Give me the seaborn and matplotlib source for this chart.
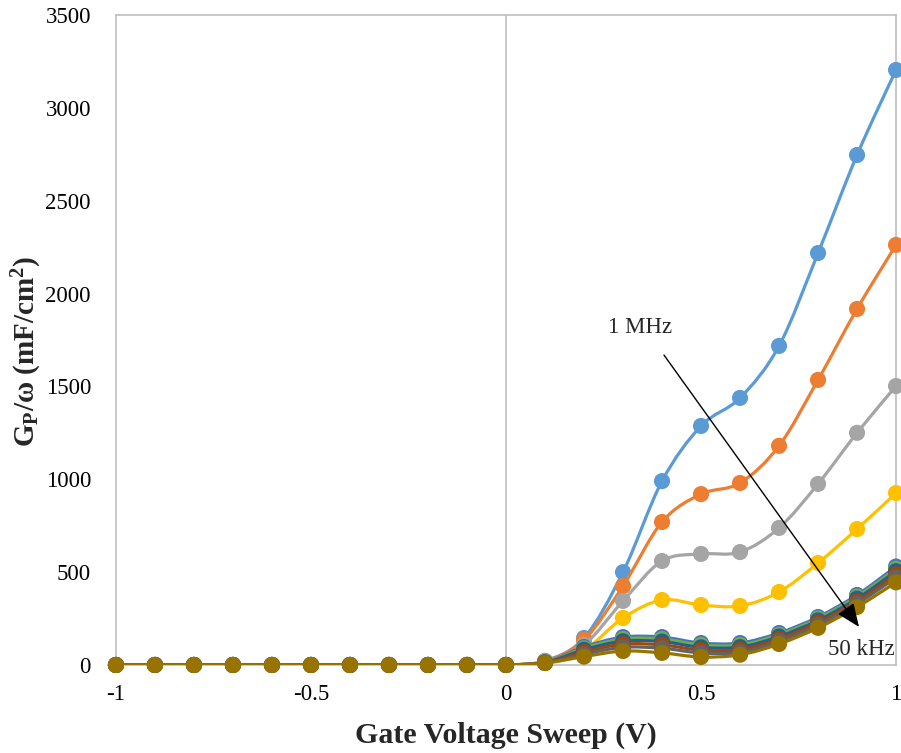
import numpy as np
import pandas as pd
import matplotlib
matplotlib.use("Agg")
import matplotlib.pyplot as plt
from matplotlib.path import Path
from matplotlib.patches import PathPatch
import seaborn as sns

# Gate voltage sweep (V)
voltage = [-1.0, -0.9, -0.8, -0.7, -0.6, -0.5, -0.4, -0.3, -0.2, -0.1,
           0.0, 0.1, 0.2, 0.3, 0.4, 0.5, 0.6, 0.7, 0.8, 0.9, 1.0]

# Gp/omega (mF/cm^2) per measurement frequency, highest to lowest
off_state = [0, 0, 0, 0, 0, 0, 0, 0, 0, 0, 0]
f1 = off_state + [22, 145, 500, 990, 1287, 1438, 1718, 2218, 2746, 3204]
f2 = off_state + [20, 135, 425, 770, 920, 980, 1180, 1535, 1917, 2262]
f3 = off_state + [18, 108, 345, 560, 598, 608, 738, 975, 1250, 1502]
f4 = off_state + [16, 80, 253, 350, 323, 318, 393, 549, 732, 926]
f5 = off_state + [15, 97, 150, 150, 118, 118, 172, 258, 377, 530]
f6 = off_state + [14, 90, 140, 140, 108, 108, 163, 250, 368, 518]
f7 = off_state + [13, 82, 128, 126, 95, 96, 153, 240, 357, 505]
f8 = off_state + [12, 70, 112, 108, 80, 82, 140, 228, 343, 488]
f9 = off_state + [11, 58, 95, 90, 65, 68, 128, 215, 330, 470]
f10 = off_state + [10, 45, 75, 65, 43, 55, 113, 200, 312, 445]

series = [f1, f2, f3, f4, f5, f6, f7, f8, f9, f10]
colors = ["#5B9BD5", "#ED7D31", "#A5A5A5", "#FFC000", "#4472C4",
          "#70AD47", "#255E91", "#9E480E", "#636363", "#997300"]

sns.set_theme(style="white")
plt.rcParams["font.family"] = ["Liberation Serif", "DejaVu Serif"]
plt.rcParams["mathtext.fontset"] = "custom"
plt.rcParams["mathtext.rm"] = "Liberation Serif"
plt.rcParams["mathtext.bf"] = "Liberation Serif:bold"
plt.rcParams["mathtext.it"] = "Liberation Serif:italic"

fig = plt.figure(figsize=(9.01, 7.53), dpi=100)
ax = fig.add_axes([0.1287, 0.1169, 0.8658, 0.8632])


def smooth_path(xs, ys):
    """Bezier path through the points (Catmull-Rom style tangents)."""
    pts = np.column_stack([xs, ys]).astype(float)
    n = len(pts)
    verts = [pts[0]]
    codes = [Path.MOVETO]
    for i in range(n - 1):
        p0 = pts[i - 1] if i > 0 else pts[i]
        p1 = pts[i]
        p2 = pts[i + 1]
        p3 = pts[i + 2] if i + 2 < n else pts[i + 1]
        c1 = p1 + (p2 - p0) / 6.0
        c2 = p2 - (p3 - p1) / 6.0
        verts += [c1, c2, p2]
        codes += [Path.CURVE4] * 3
    return Path(verts, codes)


for k, (vals, col) in enumerate(zip(series, colors)):
    patch = PathPatch(smooth_path(voltage, vals), facecolor="none",
                      edgecolor=col, lw=2.3, zorder=3 + 2 * k,
                      capstyle="round", joinstyle="round")
    ax.add_patch(patch)
    df = pd.DataFrame({"V": voltage, "G": vals})
    sns.scatterplot(data=df, x="V", y="G", ax=ax, color=col, s=135,
                    edgecolor="none", zorder=4 + 2 * k, clip_on=False,
                    legend=False)

ax.set_xlim(-1, 1)
ax.set_ylim(0, 3500)
ax.set_xticks([-1, -0.5, 0, 0.5, 1])
ax.set_xticklabels(["-1", "-0.5", "0", "0.5", "1"])
ax.set_yticks(range(0, 3501, 500))
ax.tick_params(axis="both", length=0, labelsize=16.5, colors="#000000")
ax.tick_params(axis="x", pad=14)
ax.tick_params(axis="y", pad=18)

for sp in ax.spines.values():
    sp.set_color("#BFBFBF")
    sp.set_linewidth(1.2)
ax.axvline(0, color="#BFBFBF", lw=1.2, zorder=1)

ax.set_xlabel("Gate Voltage Sweep (V)", fontsize=21.5, fontweight="bold",
              labelpad=12)
ax.set_ylabel(r"$\mathbf{G_P}$/ω (mF/cm$^\mathbf{2}$)", fontsize=21,
              fontweight="bold", va="center", ha="center")
ax.yaxis.set_label_coords(-0.114, 0.483)

ax.annotate("", xy=(0.905, 205), xytext=(0.405, 1669),
            arrowprops=dict(arrowstyle="-|>,head_length=1.2,head_width=0.5",
                            color="black", lw=1, shrinkA=0, shrinkB=0),
            zorder=30)
ax.text(0.344, 1815, "1 MHz", fontsize=16.5, ha="center", va="center",
        zorder=30)
ax.text(0.91, 81, "50 kHz", fontsize=16.5, ha="center", va="center",
        zorder=30)

fig.savefig("out.png", dpi=100)
